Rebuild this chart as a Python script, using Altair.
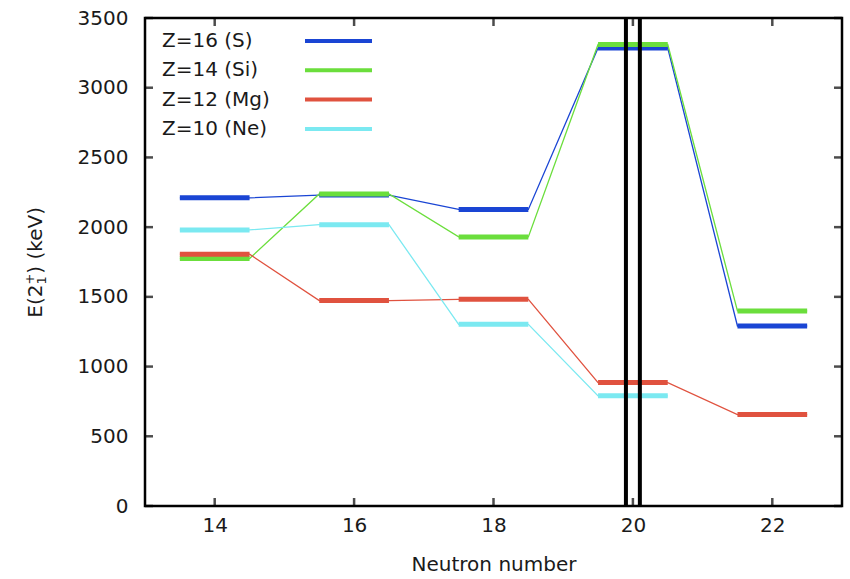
import altair as alt
import pandas as pd

# E(2+1) energies (keV) by neutron number
neutrons = [14, 16, 18, 20, 22]
e_sulfur = [2210, 2230, 2127, 3285, 1291]
e_silicon = [1775, 2238, 1930, 3310, 1399]
e_magnesium = [1806, 1473, 1482, 885, 656]
e_neon = [1980, 2018, 1303, 790]

series_labels = ["Z=16 (S)", "Z=14 (Si)", "Z=12 (Mg)", "Z=10 (Ne)"]
series_colors = ["#1a45d4", "#6bde3c", "#e0523f", "#7be9f1"]
series_values = [e_sulfur, e_silicon, e_magnesium, e_neon]

shell_lines = [19.9, 20.1]
x_ticks = [14, 16, 18, 20, 22]
y_ticks = [0, 500, 1000, 1500, 2000, 2500, 3000, 3500]

FONT = "DejaVu Sans"
INK = "#1a1a1a"
W, H = 697, 488
TICK = 8

# level bars (one per nucleus) and the zig-zag path joining them
level_rows, path_rows = [], []
for s_idx, (lab, vals) in enumerate(zip(series_labels, series_values)):
    step = 0
    for n, e in zip(neutrons, vals):
        level_rows.append({"series": lab, "sidx": s_idx, "n0": n - 0.5, "n1": n + 0.5, "e": e})
        path_rows.append({"series": lab, "step": step, "n": n - 0.5, "e": e})
        path_rows.append({"series": lab, "step": step + 1, "n": n + 0.5, "e": e})
        step += 2
levels = pd.DataFrame(level_rows)
paths = pd.DataFrame(path_rows)

x_scale = alt.Scale(domain=[13, 23], nice=False, zero=False)
y_scale = alt.Scale(domain=[0, 3500], nice=False)
color_scale = alt.Scale(domain=series_labels, range=series_colors)

x_axis = alt.Axis(values=x_ticks, format="d", ticks=False, domain=False, grid=False,
                  labelFont=FONT, labelFontSize=20, labelColor=INK, labelPadding=9,
                  title="Neutron number", titleFont=FONT, titleFontSize=20,
                  titleFontWeight="normal", titleColor=INK, titlePadding=19)
y_axis = alt.Axis(values=y_ticks, format="d", ticks=False, domain=False, grid=False,
                  labelFont=FONT, labelFontSize=20, labelColor=INK, labelPadding=17,
                  title=None)

connectors = alt.Chart(paths).mark_line(strokeWidth=1.3).encode(
    x=alt.X("n:Q", scale=x_scale, axis=x_axis),
    y=alt.Y("e:Q", scale=y_scale, axis=y_axis),
    color=alt.Color("series:N", scale=color_scale, legend=None),
    detail="series:N",
    order="step:Q",
)

bars = alt.Chart(levels).mark_rule(strokeWidth=5, strokeCap="butt").encode(
    x="n0:Q", x2="n1:Q", y="e:Q",
    color=alt.Color("series:N", scale=color_scale, legend=None),
    order="sidx:Q",
)

shells = alt.Chart(pd.DataFrame({"n": shell_lines})).mark_rule(
    color="black", strokeWidth=4
).encode(x="n:Q", y=alt.value(0), y2=alt.value(H))

# inward-pointing ticks on all four sides of the frame
xt = pd.DataFrame({"xtick": x_ticks})
yt = pd.DataFrame({"ytick": y_ticks})
tick_style = dict(color="black", thickness=2.5, size=TICK)
half = TICK / 2
ticks = [
    alt.Chart(xt).mark_tick(**tick_style).encode(x="xtick:Q", y=alt.value(H - half)),
    alt.Chart(xt).mark_tick(**tick_style).encode(x="xtick:Q", y=alt.value(half)),
    alt.Chart(yt).mark_tick(**tick_style).encode(y="ytick:Q", x=alt.value(half)),
    alt.Chart(yt).mark_tick(**tick_style).encode(y="ytick:Q", x=alt.value(W - half)),
]

# key in the upper-left corner: label first, line sample after it
key = []
for i, (lab, col) in enumerate(zip(series_labels, series_colors)):
    ypix = 23 + i * 29.3
    d = pd.DataFrame({"label": [lab]})
    key.append(alt.Chart(d).mark_text(align="left", baseline="middle", font=FONT,
                                      fontSize=20, color=INK).encode(
        text="label:N", x=alt.value(17), y=alt.value(ypix)))
    key.append(alt.Chart(d).mark_rule(color=col, strokeWidth=4).encode(
        x=alt.value(160), x2=alt.value(227), y=alt.value(ypix)))

# vertical axis title E(2^+_1) (keV), with the + stacked over the subscript 1
title_x = -109          # centre line of the rotated title, left of the frame
title_mid = H / 2       # centred on the plot height
fs, fs_small = 20, 13
w_head = (0.632 + 0.390 + 0.636) * fs          # "E(2"
w_mid = 0.838 * fs_small                       # stacked "+" / "1"
w_tail = (0.390 + 0.318 + 0.390 + 0.579 + 0.615 + 0.684 + 0.390) * fs  # ") (keV)"
y_start = title_mid + (w_head + w_mid + w_tail) / 2
title_parts = [
    ("E(2", fs, title_x, y_start),
    ("+", fs_small, title_x - 6, y_start - w_head),
    ("1", fs_small, title_x + 6, y_start - w_head),
    (") (keV)", fs, title_x, y_start - w_head - w_mid),
]
y_title = []
for txt, size, px, py in title_parts:
    y_title.append(alt.Chart(pd.DataFrame({"t": [txt]})).mark_text(
        align="left", baseline="middle", angle=270, font=FONT, fontSize=size, color=INK
    ).encode(text="t:N", x=alt.value(px), y=alt.value(py)))

chart = alt.layer(connectors, bars, shells, *ticks, *key, *y_title).properties(
    width=W, height=H,
    autosize=alt.AutoSizeParams(type="none"),
    padding={"left": 145, "top": 18, "right": 8, "bottom": 73},
    background="white",
).configure_view(stroke="black", strokeWidth=2.5)

chart.save("out.html", embed_options={"renderer": "svg", "actions": False})
